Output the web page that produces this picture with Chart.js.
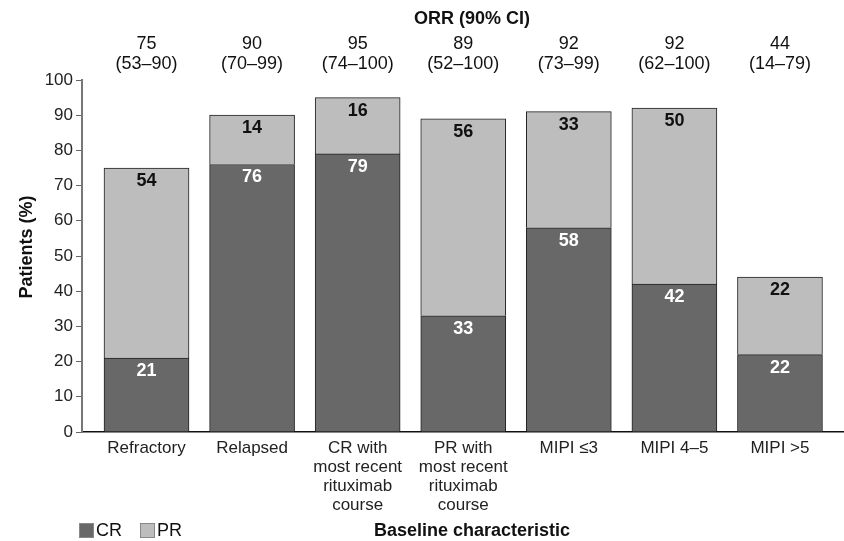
<!DOCTYPE html>
<html>
<head>
<meta charset="utf-8">
<script src="https://cdn.jsdelivr.net/npm/chart.js@4.4.1/dist/chart.umd.min.js"></script>
<style>
  html, body { margin: 0; padding: 0; background: #fff; }
  #wrap { width: 844px; height: 541px; position: relative; }
</style>
</head>
<body>
<div id="wrap"><canvas id="chart"></canvas></div>
<script>
// data
const categories = [
  ['Refractory'],
  ['Relapsed'],
  ['CR with', 'most recent', 'rituximab', 'course'],
  ['PR with', 'most recent', 'rituximab', 'course'],
  ['MIPI \u22643'],
  ['MIPI 4\u20135'],
  ['MIPI >5']
];
const crValues = [21, 76, 79, 33, 58, 42, 22];
const prValues = [54, 14, 16, 56, 33, 50, 22];
const orrValues = [75, 90, 95, 89, 92, 92, 44];
const orrCI = ['(53\u201390)', '(70\u201399)', '(74\u2013100)', '(52\u2013100)', '(73\u201399)', '(62\u2013100)', '(14\u201379)'];
const yTicks = [0, 10, 20, 30, 40, 50, 60, 70, 80, 90, 100];

const FONT = '"Liberation Sans", Arial, Helvetica, sans-serif';
const CR_COLOR = '#686868';
const PR_COLOR = '#bdbdbd';

// text around the plot: ORR row, labels inside bars, axis title, legend
const extras = {
  id: 'extras',
  afterDatasetsDraw(chart) {
    const ctx = chart.ctx;
    const x = chart.scales.x;
    ctx.save();
    ctx.textAlign = 'center';
    ctx.textBaseline = 'middle';

    // values inside the bar segments
    ctx.font = 'bold 18px ' + FONT;
    chart.data.datasets.forEach((ds, di) => {
      const meta = chart.getDatasetMeta(di);
      meta.data.forEach((bar, i) => {
        ctx.fillStyle = di === 0 ? '#ffffff' : '#111111';
        ctx.fillText(String(ds.data[i].y), bar.x, bar.y + 13);
      });
    });

    // ORR header
    ctx.fillStyle = '#111';
    ctx.font = 'bold 18px ' + FONT;
    ctx.fillText('ORR (90% CI)', 472, 19);
    ctx.font = '18px ' + FONT;
    orrValues.forEach((v, i) => {
      const px = x.getPixelForValue(i);
      ctx.fillText(String(v), px, 44);
      ctx.fillText(orrCI[i], px, 64);
    });

    // y axis title
    ctx.save();
    ctx.translate(27, 247);
    ctx.rotate(-Math.PI / 2);
    ctx.font = 'bold 18px ' + FONT;
    ctx.fillText('Patients (%)', 0, 0);
    ctx.restore();

    // x axis title
    ctx.font = 'bold 18px ' + FONT;
    ctx.fillText('Baseline characteristic', 472, 531);

    // legend
    ctx.textAlign = 'left';
    ctx.font = '18px ' + FONT;
    let lx = 79;
    chart.data.datasets.forEach(ds => {
      ctx.fillStyle = ds.backgroundColor;
      ctx.fillRect(lx, 523, 15, 15);
      ctx.strokeStyle = '#888';
      ctx.lineWidth = 1;
      ctx.strokeRect(lx + 0.5, 523.5, 14, 14);
      ctx.fillStyle = '#111';
      ctx.fillText(ds.label, lx + 17, 531);
      lx += 61;
    });
    ctx.restore();
  }
};

new Chart(document.getElementById('chart'), {
  type: 'bar',
  data: {
    datasets: [
      {
        label: 'CR',
        data: crValues.map((v, i) => ({ x: i, y: v })),
        backgroundColor: CR_COLOR,
        borderColor: '#222',
        borderWidth: 1,
        barThickness: 85
      },
      {
        label: 'PR',
        data: prValues.map((v, i) => ({ x: i, y: v })),
        backgroundColor: PR_COLOR,
        borderColor: '#222',
        borderWidth: 1,
        barThickness: 85
      }
    ]
  },
  options: {
    responsive: true,
    maintainAspectRatio: false,
    animation: false,
    layout: { padding: { top: 80, left: 0, right: 1, bottom: 0 } },
    plugins: {
      legend: { display: false },
      tooltip: { enabled: false }
    },
    scales: {
      x: {
        type: 'linear',
        stacked: true,
        offset: false,
        bounds: 'data',
        min: -0.611,
        max: 6.597,
        afterBuildTicks: s => { s.ticks = categories.map((_, i) => ({ value: i })); },
        afterFit: s => { s.height = 109; },
        grid: { offset: false, drawOnChartArea: false, drawTicks: false },
        border: { color: '#111', width: 1.5 },
        ticks: {
          autoSkip: false,
          maxRotation: 0,
          padding: 7,
          color: '#222',
          font: { family: FONT, size: 17, lineHeight: 1.12 },
          callback: v => categories[v] || ''
        }
      },
      y: {
        stacked: true,
        min: 0,
        max: 100,
        afterBuildTicks: s => { s.ticks = yTicks.map(v => ({ value: v })); },
        afterFit: s => { s.width = 82; },
        grid: { drawOnChartArea: false, tickLength: 6, color: '#666', tickColor: '#666' },
        border: { color: '#777', width: 2 },
        ticks: {
          padding: 3,
          color: '#222',
          font: { family: FONT, size: 17 }
        }
      }
    }
  },
  plugins: [extras]
});
</script>
</body>
</html>
